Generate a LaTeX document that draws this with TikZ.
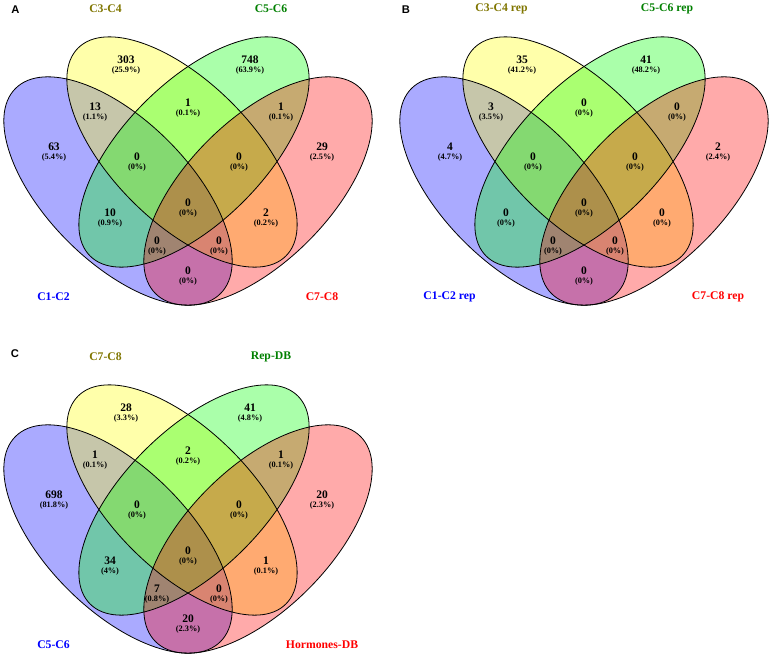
\documentclass[tikz,border=0pt]{standalone}
\usepackage{fontspec}
\setmainfont{Liberation Serif}
\newfontfamily\lettersf{Liberation Sans}
\definecolor{vblue}{RGB}{0,0,255}
\definecolor{vyellow}{RGB}{255,255,0}
\definecolor{vgreen}{RGB}{0,255,0}
\definecolor{vred}{RGB}{255,0,0}
\definecolor{labolive}{RGB}{128,118,0}
\definecolor{labgreen}{RGB}{0,128,0}
\definecolor{labblue}{RGB}{0,0,255}
\definecolor{labred}{RGB}{255,0,0}
\tikzset{
  setfill/.style={fill=#1, fill opacity=0.3333, draw=none},
  setline/.style={draw=black, line width=0.8pt},
  num/.style={font=\fontsize{11.5}{12}\selectfont\bfseries, inner sep=0pt},
  pct/.style={font=\fontsize{8.3}{9}\selectfont\bfseries, inner sep=0pt},
  setname/.style={font=\fontsize{11.7}{12}\selectfont\bfseries, inner sep=0pt, text=#1},
  panelletter/.style={font=\fontsize{11.2}{12}\selectfont\lettersf\bfseries, inner sep=0pt},
}
\newcommand\vennellipses{%
  \fill[setfill=vblue, rotate around={-45:(118,191)}] (118,191) ellipse [x radius=145pt, y radius=71pt];
  \fill[setfill=vyellow, rotate around={-45:(182,152)}] (182,152) ellipse [x radius=147pt, y radius=70pt];
  \fill[setfill=vgreen, rotate around={45:(194,152)}] (194,152) ellipse [x radius=147pt, y radius=70pt];
  \fill[setfill=vred, rotate around={45:(258,191)}] (258,191) ellipse [x radius=145pt, y radius=71pt];
  \draw[setline, rotate around={-45:(118,191)}] (118,191) ellipse [x radius=145pt, y radius=71pt];
  \draw[setline, rotate around={-45:(182,152)}] (182,152) ellipse [x radius=147pt, y radius=70pt];
  \draw[setline, rotate around={45:(194,152)}] (194,152) ellipse [x radius=147pt, y radius=70pt];
  \draw[setline, rotate around={45:(258,191)}] (258,191) ellipse [x radius=145pt, y radius=71pt];
}
% name, x, y, number, percent
\newcommand\vlab[5]{%
  \node[num] (#1n) at (#2,#3) {#4};
  \node[pct] (#1p) at (#2,#3+10.5) {(#5\%)};
}
% prefix, top-left, top-right, bottom-left, bottom-right
\newcommand\vsets[5]{%
  \node[setname=labolive] (#1s2) at (105.5,8.5) {#2};
  \node[setname=labgreen] (#1s3) at (271,8.5) {#3};
  \node[setname=labblue] (#1s1) at (53.5,297) {#4};
  \node[setname=labred] (#1s4) at (322,297) {#5};
}
\begin{document}
\begin{tikzpicture}[x=1pt,y=-1pt]
\useasboundingbox (0,0) rectangle (772,657);
\fill[white] (0,0) rectangle (772,657);

% ---------------- Panel A ----------------
\begin{scope}
  \vennellipses
  \vsets{A}{C3-C4}{C5-C6}{C1-C2}{C7-C8}
  \vlab{A01}{126}{60}{303}{25.9}
  \vlab{A02}{250}{60}{748}{63.9}
  \vlab{A03}{95}{106.5}{13}{1.1}
  \vlab{A04}{188}{102.5}{1}{0.1}
  \vlab{A05}{281}{106.5}{1}{0.1}
  \vlab{A06}{54}{146.5}{63}{5.4}
  \vlab{A07}{322}{146.5}{29}{2.5}
  \vlab{A08}{137}{156.5}{0}{0}
  \vlab{A09}{239}{156.5}{0}{0}
  \vlab{A10}{188}{203}{0}{0}
  \vlab{A11}{110}{213}{10}{0.9}
  \vlab{A12}{266}{213}{2}{0.2}
  \vlab{A13}{157}{240.5}{0}{0}
  \vlab{A14}{219}{240.5}{0}{0}
  \vlab{A15}{188}{270.5}{0}{0}
\end{scope}

% ---------------- Panel B ----------------
\begin{scope}[shift={(396,0)}]
  \vennellipses
  \vsets{B}{C3-C4 rep}{C5-C6 rep}{C1-C2 rep}{C7-C8 rep}
  \vlab{B01}{126}{60}{35}{41.2}
  \vlab{B02}{250}{60}{41}{48.2}
  \vlab{B03}{95}{106.5}{3}{3.5}
  \vlab{B04}{188}{102.5}{0}{0}
  \vlab{B05}{281}{106.5}{0}{0}
  \vlab{B06}{54}{146.5}{4}{4.7}
  \vlab{B07}{322}{146.5}{2}{2.4}
  \vlab{B08}{137}{156.5}{0}{0}
  \vlab{B09}{239}{156.5}{0}{0}
  \vlab{B10}{188}{203}{0}{0}
  \vlab{B11}{110}{213}{0}{0}
  \vlab{B12}{266}{213}{0}{0}
  \vlab{B13}{157}{240.5}{0}{0}
  \vlab{B14}{219}{240.5}{0}{0}
  \vlab{B15}{188}{270.5}{0}{0}
\end{scope}

% ---------------- Panel C ----------------
\begin{scope}[shift={(0,348)}]
  \vennellipses
  \vsets{C}{C7-C8}{Rep-DB}{C5-C6}{Hormones-DB}
  \vlab{C01}{126}{60}{28}{3.3}
  \vlab{C02}{250}{60}{41}{4.8}
  \vlab{C03}{95}{106.5}{1}{0.1}
  \vlab{C04}{188}{102.5}{2}{0.2}
  \vlab{C05}{281}{106.5}{1}{0.1}
  \vlab{C06}{54}{146.5}{698}{81.8}
  \vlab{C07}{322}{146.5}{20}{2.3}
  \vlab{C08}{137}{156.5}{0}{0}
  \vlab{C09}{239}{156.5}{0}{0}
  \vlab{C10}{188}{203}{0}{0}
  \vlab{C11}{110}{213}{34}{4}
  \vlab{C12}{266}{213}{1}{0.1}
  \vlab{C13}{157}{240.5}{7}{0.8}
  \vlab{C14}{219}{240.5}{0}{0}
  \vlab{C15}{188}{270.5}{20}{2.3}
\end{scope}

\node[panelletter] (LA) at (15.5,10) {A};
\node[panelletter] (LB) at (406,10) {B};
\node[panelletter] (LC) at (15,354) {C};
\end{tikzpicture}
\end{document}
